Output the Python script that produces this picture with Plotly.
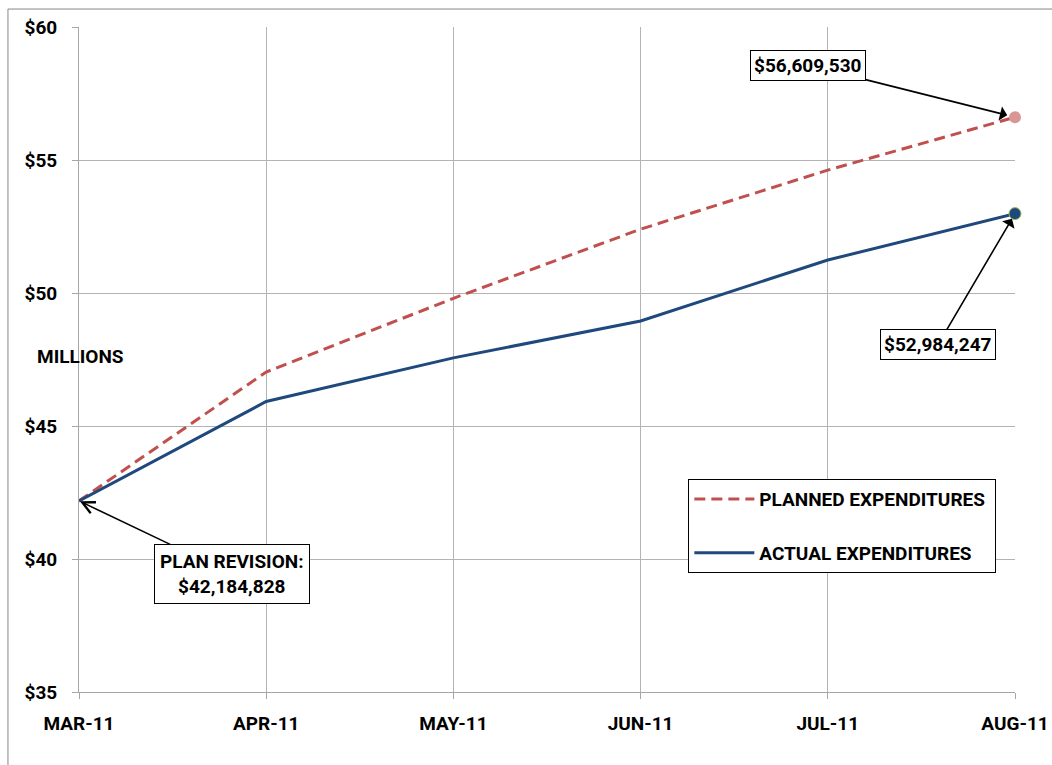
import plotly.graph_objects as go

months = ["MAR-11", "APR-11", "MAY-11", "JUN-11", "JUL-11", "AUG-11"]
planned = [42.184828, 47.03, 49.80, 52.40, 54.62, 56.609530]
actual = [42.184828, 45.92, 47.56, 48.95, 51.24, 52.984247]
y_ticks = [35, 40, 45, 50, 55, 60]
y_tick_labels = ["$35", "$40", "$45", "$50", "$55", "$60"]

FONT = "Roboto, 'DejaVu Sans', sans-serif"
RED = "#c0504d"
BLUE = "#1f497d"
FS = 19

fig = go.Figure()
fig.add_trace(go.Scatter(
    x=months, y=planned, mode="lines", name="<b>PLANNED EXPENDITURES</b>&nbsp;",
    line=dict(color=RED, width=3, dash="11px,6px"), legendgroup="p"))
fig.add_trace(go.Scatter(
    x=months, y=actual, mode="lines", name="<b>ACTUAL EXPENDITURES</b>",
    line=dict(color=BLUE, width=3), legendgroup="a"))
fig.add_trace(go.Scatter(
    x=[months[-1]], y=[planned[-1]], mode="markers", showlegend=False, cliponaxis=False,
    marker=dict(color="#d99694", size=12, line=dict(width=0))))
fig.add_trace(go.Scatter(
    x=[months[-1]], y=[actual[-1]], mode="markers", showlegend=False, cliponaxis=False,
    marker=dict(color=BLUE, size=12, line=dict(color="#9bbb59", width=1))))

box = dict(bordercolor="black", borderwidth=1, bgcolor="white",
           font=dict(family=FONT, size=FS, color="black"),
           showarrow=True, arrowcolor="black", arrowwidth=1.6, arrowsize=1.5)

fig.add_annotation(x=months[-1], y=planned[-1], text="<b>$56,609,530</b>",
                   ax=-207, ay=-52, arrowhead=1, standoff=8, borderpad=3, **box)
fig.add_annotation(x=months[-1], y=actual[-1], text="<b>$52,984,247</b>",
                   ax=-77, ay=131, arrowhead=1, standoff=6, borderpad=3, **box)
fig.add_annotation(x=months[0], y=planned[0], text="<b>PLAN REVISION:<br>$42,184,828</b>",
                   ax=153, ay=73, arrowhead=5, standoff=1, borderpad=5, **box)

fig.add_annotation(xref="paper", yref="paper", x=-0.047, y=0.504,
                   xanchor="left", yanchor="middle", showarrow=False,
                   text="<b>MILLIONS</b>",
                   font=dict(family=FONT, size=FS, color="black"))

# outer chart border
fig.add_shape(type="rect", xref="paper", yref="paper",
              x0=-0.0759, x1=1.2, y0=-0.3, y1=1.027,
              line=dict(color="#868686", width=1), layer="below")

fig.update_layout(
    width=1052, height=765,
    margin=dict(l=79, r=37, t=27, b=73, autoexpand=False),
    paper_bgcolor="white", plot_bgcolor="white",
    font=dict(family=FONT, size=FS, color="black"),
    legend=dict(x=0.651, y=0.320, xanchor="left", yanchor="top",
                bordercolor="black", borderwidth=1, bgcolor="white",
                tracegroupgap=26, itemwidth=60,
                font=dict(family=FONT, size=FS, color="black")),
    showlegend=True,
)
tickfont = dict(family=FONT, size=FS, color="black", weight="bold")
fig.update_xaxes(
    range=[0, 5], showgrid=True, gridcolor="#b3b3b3", gridwidth=1,
    showline=True, linecolor="#a6a6a6", linewidth=1,
    ticks="outside", ticklen=6, tickcolor="#a6a6a6",
    tickfont=tickfont, automargin=False,
    ticklabelstandoff=8, zeroline=False)
fig.update_yaxes(
    range=[35, 60], tickmode="array", tickvals=y_ticks, ticktext=y_tick_labels,
    showgrid=True, gridcolor="#b3b3b3", gridwidth=1,
    showline=True, linecolor="#a6a6a6", linewidth=1,
    ticks="outside", ticklen=6, tickcolor="#a6a6a6",
    tickfont=tickfont, automargin=False,
    ticklabelstandoff=11, zeroline=False)

fig.write_html("out.html")
